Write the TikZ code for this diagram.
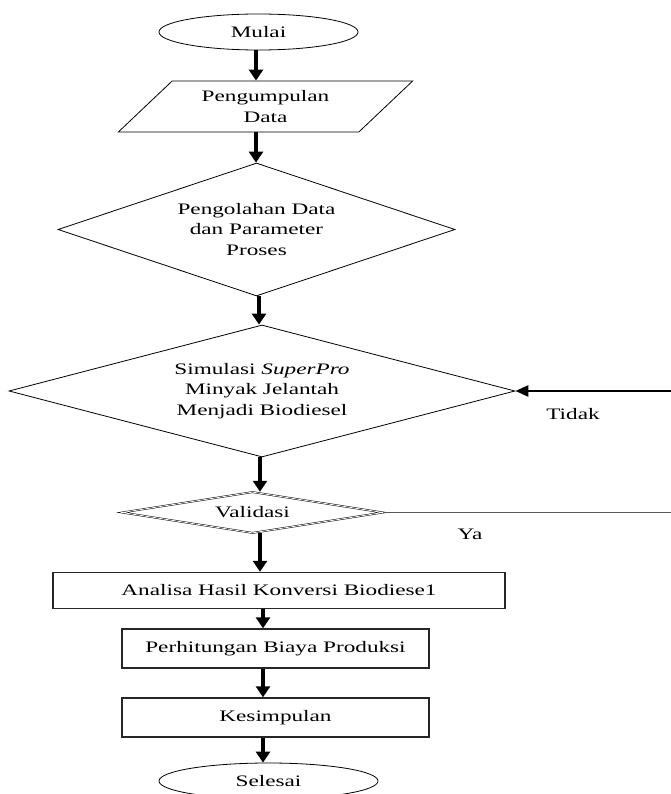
\documentclass[tikz,border=0pt]{standalone}
\usepackage{fontspec}
\setmainfont[FakeStretch=1.45]{Liberation Serif}
\usetikzlibrary{shapes.geometric,arrows.meta,calc}
\tikzset{
  txt/.style={font=\fontsize{16}{20.5}\selectfont, align=center, inner sep=0pt},
  term/.style={txt, ellipse, draw=black, line width=0.8pt, minimum width=#1, minimum height=36pt},
  iobox/.style={txt, trapezium, trapezium left angle=40.8, trapezium right angle=139.2,
     trapezium stretches=true, draw=black, line width=0.8pt, minimum width=295pt, minimum height=51pt},
  decide/.style={txt, diamond, draw=black, line width=0.8pt},
  procbox/.style={txt, rectangle, draw=black!85, line width=1.4pt},
  arr/.style={line width=3.2pt, -{Triangle[width=14pt,length=11pt]}},
  backarr/.style={line width=2.6pt, -{Triangle[width=11pt,length=13pt]}},
  plainline/.style={line width=1.6pt, draw=black!65},
  lbl/.style={font=\fontsize{16}{20}\selectfont, inner sep=0pt}
}
\begin{document}
\begin{tikzpicture}[x=1pt,y=-1pt]
\useasboundingbox (0,0) rectangle (671,794);
\fill[white] (0,0) rectangle (671,794);

\node[term=199pt] (mulai) at (258.5,32) {Mulai};
\node[iobox] (data) at (265.5,106.5) {Pengumpulan\\Data};
\node[decide, aspect=2.985, minimum width=397pt, minimum height=133pt] (olah) at (256.5,229.5)
  {Pengolahan Data\\dan Parameter\\Proses};
\node[decide, aspect=3.83, minimum width=506pt, minimum height=132pt] (sim) at (262,391)
  {Simulasi \textit{SuperPro}\\Minyak Jelantah\\Menjadi Biodiesel};
\node[decide, aspect=6.37, minimum width=261pt, minimum height=41pt, line width=0.5pt,
  double=white, double distance=0.8pt] (val) at (252.5,512.5) {Validasi};
\node[procbox, minimum width=452pt, minimum height=36pt] (anal) at (279,590.5)
  {Analisa Hasil Konversi Biodiese1};
\node[procbox, minimum width=307pt, minimum height=39pt] (hit) at (275.5,648.5)
  {Perhitungan Biaya Produksi};
\node[procbox, minimum width=307pt, minimum height=39pt] (kes) at (275.5,717.5)
  {Kesimpulan};
\node[term=219pt] (selesai) at (268.5,781) {Selesai};

\node[lbl] (tidak) at (573,414) {Tidak};
\node[lbl] (ya) at (470,534) {Ya};

\coordinate (ax1) at (256,0);
\coordinate (ax2) at (259,0);
\coordinate (ax3) at (260,0);
\coordinate (ax4) at (263,0);
\coordinate (ve) at (671,512.5);
\coordinate (te) at (671,391);

\draw[arr] (ax1 |- mulai.south) -- (ax1 |- data.north);
\draw[arr] (ax1 |- data.south) -- (ax1 |- olah.north);
\draw[arr] (ax2 |- olah.south) -- (ax2 |- sim.north);
\draw[arr] (ax3 |- sim.south) -- (ax3 |- val.north);
\draw[arr] (ax3 |- val.south) -- (ax3 |- anal.north);
\draw[arr] (ax4 |- anal.south) -- (ax4 |- hit.north);
\draw[arr] (ax4 |- hit.south) -- (ax4 |- kes.north);
\draw[arr] (ax4 |- kes.south) -- (ax4 |- selesai.north);

\draw[plainline] (val.east) -- (ve);
\draw[backarr] (te) -- (sim.east);
\end{tikzpicture}
\end{document}
